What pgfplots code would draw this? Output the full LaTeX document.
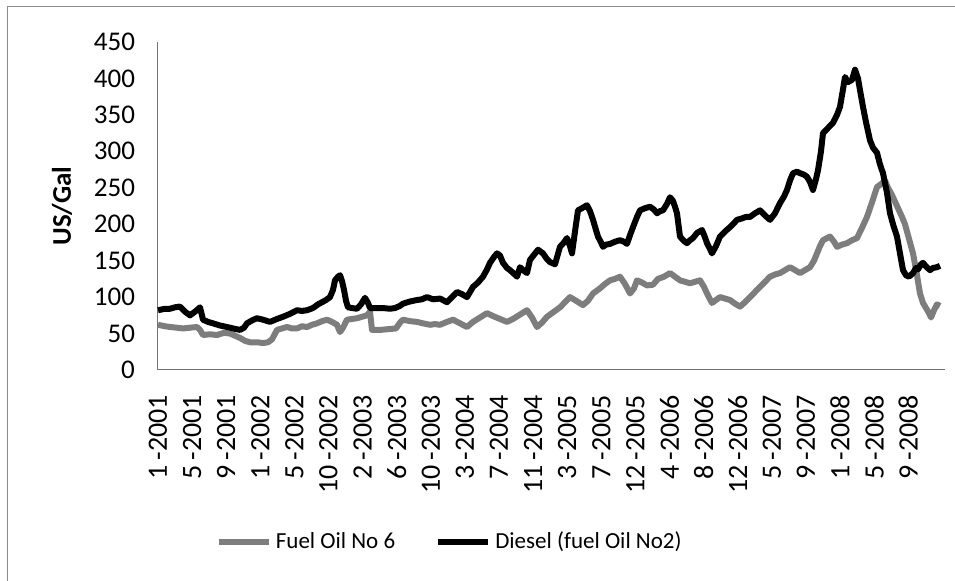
\documentclass[border=0pt]{standalone}
\usepackage{fontspec}
\setmainfont{Carlito}
\usepackage{pgfplots}
\usepackage{pgfplotstable}
\pgfplotsset{compat=1.18}
% x = horizontal position (label k sits at 158+34.1k), y = US cents / gal
\pgfplotstableread{
x y
158 62
165 60
170 59
177 58
183 57
190 58
197 59
200 55
203 48
210 49
217 48
224 51
230 50
235 47
240 44
245 40
250 38
257 38
263 37
268 38
272 42
277 55
282 57
287 59
292 57
297 57
302 60
307 59
312 62
317 64
322 67
327 69
332 66
337 62
340 52
343 58
347 69
352 70
357 71
362 73
367 75
370 80
372 55
380 55
388 56
396 57
400 65
403 69
410 67
417 66
423 64
430 62
435 63
440 62
447 66
453 69
460 64
467 59
473 66
480 72
487 78
493 74
500 70
507 66
513 70
520 76
527 82
532 72
537 59
542 65
547 73
553 79
560 86
565 93
570 100
576 95
583 89
588 95
593 105
600 112
605 118
610 123
615 125
620 128
625 118
630 105
634 112
637 123
642 120
647 116
653 117
658 125
664 128
670 133
675 128
680 123
685 121
690 119
695 121
700 123
704 114
707 105
710 97
712 92
716 96
720 100
725 98
730 96
735 91
740 87
745 93
750 100
755 107
760 114
765 121
770 128
775 131
780 133
785 137
790 141
795 137
800 133
805 137
810 141
814 150
817 160
820 170
823 178
827 181
830 183
834 176
837 169
842 172
847 174
852 178
857 181
862 195
867 210
872 230
877 251
882 256
885 260
888 250
892 240
897 225
902 210
905 200
909 180
913 160
917 130
920 105
923 92
926 85
929 78
931 72
934 82
937 90
940 88
}\fuelsix
\pgfplotstableread{
x y
158 82
165 84
170 84
175 86
180 87
185 80
190 75
195 80
200 86
203 69
208 66
213 64
220 61
227 59
233 57
240 55
244 58
247 64
252 68
257 71
263 69
270 66
277 70
283 73
290 77
297 82
302 81
307 82
313 85
318 90
322 93
326 96
330 100
333 110
335 123
338 128
340 130
342 122
344 110
346 95
348 86
352 85
357 84
361 90
365 99
368 92
370 85
377 85
383 85
390 84
395 85
400 88
403 91
410 94
417 96
422 97
427 100
433 97
440 98
447 93
452 100
457 107
462 104
467 100
473 114
478 120
483 128
487 138
490 147
494 155
497 160
500 157
503 147
507 140
510 137
514 132
517 128
520 141
524 136
527 133
530 151
534 158
538 165
543 160
547 152
550 148
555 145
560 169
564 175
567 181
570 170
572 160
575 190
578 219
582 222
587 226
590 218
593 206
596 192
598 183
601 175
603 169
606 172
610 173
615 176
620 178
624 176
627 173
630 185
633 196
637 210
640 219
645 222
650 224
654 220
657 215
660 218
663 219
667 228
670 237
673 232
675 224
677 215
680 183
684 177
687 174
690 178
693 181
697 188
702 192
705 182
707 174
710 166
712 160
716 170
720 183
725 190
730 196
733 200
737 206
742 208
746 210
750 210
755 215
760 219
765 212
770 206
775 215
780 229
784 238
787 247
790 260
793 270
797 272
800 270
804 268
807 265
810 258
813 247
816 262
818 274
821 300
823 325
828 332
833 339
837 350
840 361
843 385
845 402
848 395
852 398
855 412
858 400
860 384
863 361
866 340
870 315
873 305
877 298
880 282
883 270
887 243
890 215
893 200
897 183
900 160
903 137
906 130
909 128
913 133
916 140
918 138
921 145
923 147
926 142
930 137
933 140
937 141
940 143
}\diesel
\definecolor{fogray}{RGB}{125,125,125}
\begin{document}
\begin{tikzpicture}
\path[use as bounding box] (-79pt,-105.5pt) rectangle (398.5pt,185pt);
\draw[black!45, line width=0.5pt] (-75pt,-105.5pt) -- (-75pt,181.5pt) -- (398.5pt,181.5pt);
\begin{axis}[
  at={(0,0)}, anchor=south west,
  width=393.5pt, height=164pt, scale only axis,
  xmin=158, xmax=945, ymin=0, ymax=450,
  axis x line*=bottom, axis y line*=left,
  axis line style={black!55, line width=0.5pt},
  major tick length=0pt,
  ytick={0,50,...,450},
  xtick={158,192.1,226.2,260.3,294.4,328.5,362.6,396.7,430.8,464.9,499,533.1,567.2,601.3,635.4,669.5,703.6,737.7,771.8,805.9,840,874.1,908.2},
  xticklabels={1\,-2001,5\,-2001,9\,-2001,1\,-2002,5\,-2002,10\,-2002,2\,-2003,6\,-2003,10\,-2003,3\,-2004,7\,-2004,11\,-2004,3\,-2005,7\,-2005,12\,-2005,4\,-2006,8\,-2006,12\,-2006,5\,-2007,9\,-2007,1\,-2008,5\,-2008,9\,-2008},
  /pgf/number format/assume math mode=true,
  yticklabel style={font=\fontsize{13.5}{15}\selectfont},
  xticklabel style={font=\fontsize{14}{16}\selectfont, rotate=90, anchor=east},
  xticklabel shift=9pt,
  yticklabel shift=8pt,
  ylabel={\textbf{US/Gal}},
  every axis y label/.style={at={(ticklabel cs:0.5)}, rotate=90, anchor=south,
    font=\fontsize{13.5}{15}\selectfont},
  ylabel shift=4pt,
  clip=false,
  legend columns=2,
  legend style={at={(0.372,-0.524)}, anchor=center, draw=none, fill=none,
    font=\fontsize{11.5}{13}\selectfont,
    /tikz/every even column/.append style={column sep=18pt}},
  legend image code/.code={\draw[#1] (0pt,0pt) -- (25pt,0pt);},
]
\addplot[fogray, line width=3pt, line join=round] table[x=x,y=y] {\fuelsix};
\addlegendentry{Fuel Oil No 6}
\addplot[black, line width=3pt, line join=round] table[x=x,y=y] {\diesel};
\addlegendentry{Diesel (fuel Oil No2)}
\end{axis}
\end{tikzpicture}
\end{document}
